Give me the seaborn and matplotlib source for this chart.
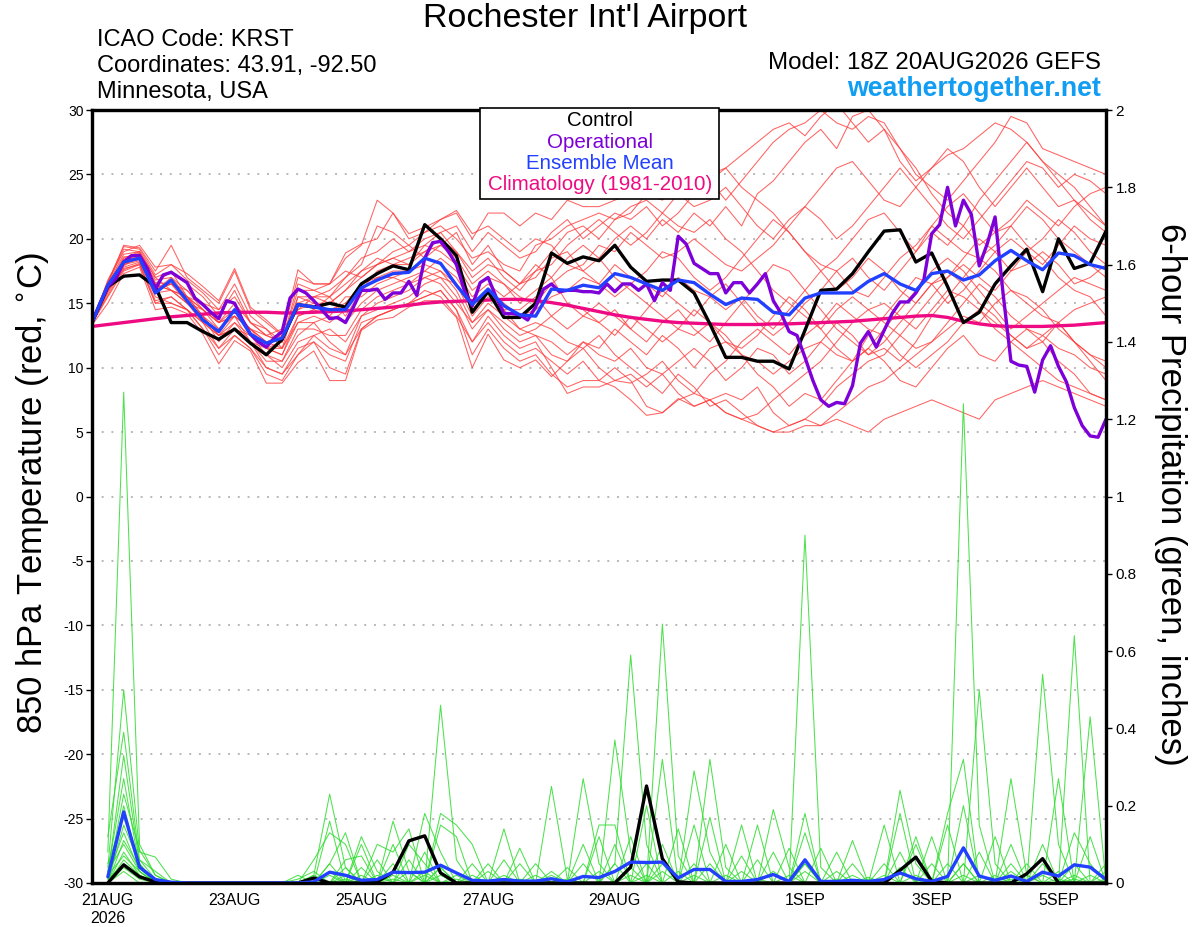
import numpy as np
import pandas as pd
import seaborn as sns
import matplotlib
matplotlib.use("Agg")
import matplotlib.pyplot as plt
from matplotlib.patches import Rectangle


# TIME AXIS (hours after 18Z 20AUG2026)
hours_6h = list(range(0, 385, 6))
hours_3h = list(range(0, 385, 3))
precip_hours = hours_6h[1:]

tick_hours = [6, 54, 102, 150, 198, 270, 318, 366]
tick_labels = ["21AUG\n2026", "23AUG", "25AUG", "27AUG", "29AUG", "1SEP", "3SEP", "5SEP"]
temp_ticks = [-30, -25, -20, -15, -10, -5, 0, 5, 10, 15, 20, 25, 30]
precip_ticks = [0, 0.2, 0.4, 0.6, 0.8, 1.0, 1.2, 1.4, 1.6, 1.8, 2.0]
precip_tick_labels = ["0", "0.2", "0.4", "0.6", "0.8", "1", "1.2", "1.4", "1.6", "1.8", "2"]


# 850 hPa TEMPERATURE - main lines
control_temp = [13.5, 16.3, 17.1, 17.2, 16.3, 13.5, 13.5, 12.8, 12.2, 13.0,
                11.9, 11.0, 12.2, 14.9, 14.7, 15.0, 14.7, 16.5, 17.3, 17.9,
                17.6, 21.1, 20.0, 18.7, 14.3, 15.9, 13.9, 13.9, 15.0, 18.9,
                18.1, 18.6, 18.3, 19.5, 17.8, 16.7, 16.8, 16.8, 15.8, 13.4,
                10.8, 10.8, 10.5, 10.5, 9.9, 12.9, 16.0, 16.1, 17.3, 19.0,
                20.6, 20.7, 18.2, 18.9, 16.3, 13.5, 14.3, 16.5, 17.9, 19.2,
                15.9, 20.0, 17.7, 18.1, 20.6]

mean_temp = [13.5, 16.4, 18.2, 18.5, 15.8, 16.8, 15.2, 13.7, 12.8, 14.5,
             12.6, 11.9, 12.3, 14.9, 14.7, 14.5, 14.5, 16.2, 16.8, 17.3,
             17.4, 18.5, 18.1, 16.4, 14.9, 16.1, 14.8, 14.1, 14.0, 16.1,
             16.0, 16.4, 16.2, 17.3, 17.0, 16.5, 16.0, 16.8, 16.6, 15.7,
             14.9, 15.4, 15.3, 14.3, 14.1, 15.4, 15.8, 15.8, 15.8, 16.7,
             17.3, 16.5, 16.0, 17.3, 17.5, 16.8, 17.2, 18.3, 19.1, 18.3,
             17.6, 18.9, 18.7, 18.0, 17.7]

clim_temp = [13.2, 13.35, 13.5, 13.65, 13.8, 13.95, 14.05, 14.15, 14.25, 14.3,
             14.3, 14.3, 14.25, 14.25, 14.3, 14.35, 14.4, 14.5, 14.6, 14.7,
             14.85, 15.0, 15.1, 15.15, 15.2, 15.25, 15.3, 15.3, 15.2, 15.05,
             14.85, 14.6, 14.35, 14.1, 13.9, 13.75, 13.6, 13.5, 13.45, 13.4,
             13.35, 13.35, 13.35, 13.4, 13.4, 13.45, 13.5, 13.55, 13.6, 13.7,
             13.8, 13.9, 14.0, 14.05, 13.9, 13.6, 13.4, 13.25, 13.2, 13.2,
             13.2, 13.25, 13.3, 13.4, 13.5]

# operational run is 3-hourly
oper_temp = [13.5, 15.0, 16.3, 16.9, 18.2, 18.7, 18.7, 17.7, 16.1, 17.2,
             17.4, 17.0, 16.6, 15.4, 14.9, 14.3, 13.8, 15.2, 15.0, 13.7,
             12.6, 12.0, 11.6, 12.3, 12.8, 15.4, 16.1, 15.8, 15.2, 14.5,
             13.8, 13.9, 13.5, 14.7, 16.0, 16.0, 16.1, 15.3, 15.8, 15.8,
             16.7, 15.6, 18.5, 19.7, 19.8, 19.0, 18.0, 16.0, 14.8, 16.6,
             17.0, 15.5, 14.2, 14.2, 14.1, 13.7, 14.7, 16.1, 16.5, 15.9,
             16.0, 16.0, 15.9, 15.9, 15.8, 16.5, 15.9, 16.5, 16.5, 16.0,
             16.5, 15.2, 16.6, 16.0, 20.2, 19.6, 18.1, 17.7, 17.3, 17.3,
             15.8, 16.6, 16.6, 15.8, 16.5, 17.3, 15.2, 14.2, 12.8, 12.5,
             10.8, 9.0, 7.5, 7.0, 7.3, 7.2, 8.6, 11.9, 12.8, 11.6,
             12.9, 14.2, 15.1, 15.1, 15.8, 16.8, 20.4, 21.1, 24.0, 21.0,
             23.0, 21.9, 17.9, 19.6, 21.7, 15.8, 10.5, 10.2, 10.1, 8.1,
             10.6, 11.7, 10.1, 8.9, 6.9, 5.5, 4.7, 4.6, 6.0]


# 850 hPa TEMPERATURE - ensemble members (6-hourly)
temp_m01 = [13.5, 16.0, 18.5, 19.0, 16.0, 17.0, 15.5, 14.5, 13.0, 14.5, 12.5, 11.5, 12.0,
            15.0, 15.5, 15.0, 16.0, 17.0, 18.0, 18.5, 19.0, 20.0, 20.5, 19.0, 17.5, 18.5,
            17.0, 16.0, 17.5, 19.0, 20.5, 21.0, 20.0, 21.5, 22.0, 23.5, 23.0, 24.5, 24.0,
            25.0, 25.5, 26.5, 27.5, 28.5, 29.0, 28.0, 29.5, 30.5, 29.0, 27.5, 28.5, 27.0,
            25.0, 24.0, 23.0, 24.5, 26.0, 27.5, 29.5, 29.0, 27.0, 26.5, 26.0, 25.5, 25.0]
temp_m02 = [13.4, 15.5, 17.5, 18.0, 15.0, 15.5, 14.5, 13.0, 11.0, 12.5, 11.5, 9.5, 9.0,
            11.0, 12.0, 10.0, 9.5, 13.0, 14.0, 14.5, 15.0, 15.5, 16.0, 14.5, 11.0, 13.0,
            11.5, 10.5, 11.0, 9.5, 8.5, 9.0, 9.0, 10.0, 9.0, 7.0, 6.5, 7.5, 8.0,
            7.5, 6.5, 6.0, 5.5, 5.0, 5.0, 5.5, 5.5, 6.0, 5.5, 5.0, 6.0, 6.5,
            7.0, 7.5, 7.0, 6.5, 6.0, 7.5, 8.0, 8.5, 9.0, 8.5, 8.0, 7.5, 7.0]
temp_m03 = [13.5, 16.2, 18.0, 18.5, 16.5, 16.0, 15.0, 13.5, 12.5, 13.0, 12.0, 10.5, 10.5,
            12.5, 13.5, 12.0, 11.0, 14.0, 15.0, 15.5, 16.0, 17.0, 17.5, 16.0, 13.5, 14.5,
            13.0, 12.0, 12.5, 11.0, 10.5, 11.5, 10.0, 9.0, 9.5, 8.5, 9.5, 8.0, 7.0,
            7.5, 8.0, 7.5, 8.5, 6.5, 5.5, 6.0, 5.5, 6.5, 7.5, 8.5, 9.0, 10.0,
            11.0, 12.0, 13.0, 14.0, 13.5, 15.0, 16.0, 15.5, 14.5, 13.0, 12.0, 10.5, 9.0]
temp_m04 = [13.6, 16.5, 19.5, 19.3, 17.5, 19.5, 17.0, 16.0, 15.0, 17.5, 14.5, 13.5, 12.5,
            17.0, 16.5, 16.5, 18.5, 19.5, 23.0, 22.0, 20.0, 20.5, 21.5, 22.0, 20.0, 22.0,
            22.0, 21.0, 22.0, 21.5, 23.0, 22.5, 22.5, 23.0, 23.5, 24.0, 24.0, 25.5, 24.0,
            24.5, 25.5, 24.0, 23.0, 22.0, 20.5, 19.0, 18.0, 17.5, 16.0, 15.5, 17.0, 18.5,
            19.5, 21.0, 20.0, 19.0, 18.5, 17.5, 16.0, 15.0, 14.0, 13.5, 12.0, 11.0, 10.0]
temp_m05 = [13.5, 16.3, 18.2, 18.8, 16.8, 17.0, 16.0, 14.5, 13.5, 14.0, 13.0, 12.0, 12.5,
            14.5, 15.0, 14.5, 15.0, 16.5, 17.0, 17.5, 17.5, 18.5, 18.0, 17.0, 15.0, 16.0,
            15.0, 14.0, 14.5, 15.5, 16.0, 17.0, 16.5, 18.0, 17.0, 16.5, 15.5, 17.0, 16.0,
            15.5, 14.5, 15.5, 14.0, 13.0, 14.5, 16.0, 17.5, 18.5, 20.0, 21.5, 22.0, 20.5,
            19.0, 21.0, 22.5, 23.5, 22.0, 20.5, 21.5, 23.0, 22.0, 21.0, 22.5, 23.5, 24.0]
temp_m06 = [13.5, 16.8, 19.0, 19.5, 17.8, 18.0, 17.3, 16.3, 15.2, 17.7, 14.7, 13.7, 12.6,
            17.6, 16.5, 16.5, 18.9, 19.6, 20.0, 22.0, 20.4, 20.9, 21.5, 22.2, 20.4, 21.0,
            20.0, 19.0, 20.0, 19.5, 18.0, 17.5, 18.5, 17.0, 16.0, 15.0, 14.0, 13.0, 12.5,
            13.5, 12.5, 11.0, 10.5, 9.5, 10.5, 11.5, 12.0, 13.5, 12.5, 11.0, 12.0, 13.5,
            15.0, 16.5, 17.0, 18.5, 20.0, 19.0, 17.5, 18.0, 19.0, 18.0, 16.5, 17.0, 18.0]
temp_m07 = [13.3, 15.0, 17.3, 17.8, 14.5, 14.7, 14.2, 12.6, 10.3, 12.1, 11.3, 8.8, 8.8,
            10.4, 11.3, 9.0, 9.0, 12.9, 13.7, 13.9, 14.7, 15.2, 15.2, 13.9, 10.0, 12.6,
            10.6, 10.0, 10.6, 9.3, 10.5, 12.0, 11.5, 13.0, 12.0, 11.0, 12.5, 11.5, 10.0,
            11.5, 12.0, 11.0, 9.5, 8.5, 7.0, 8.0, 7.5, 9.0, 10.5, 11.5, 10.5, 9.0,
            8.5, 10.0, 11.5, 12.5, 11.0, 10.5, 12.0, 13.0, 12.0, 10.5, 9.5, 8.0, 7.5]
temp_m08 = [13.5, 16.0, 18.0, 18.3, 16.0, 16.5, 15.0, 14.0, 13.0, 14.0, 13.0, 12.0, 11.5,
            14.0, 14.5, 15.5, 14.0, 16.0, 17.5, 18.0, 18.5, 19.0, 19.5, 18.5, 16.5, 17.5,
            16.5, 15.0, 16.0, 17.0, 18.5, 19.5, 18.5, 20.0, 21.0, 20.0, 21.5, 20.5, 22.0,
            21.0, 22.5, 21.0, 23.5, 24.5, 26.0, 27.5, 28.5, 27.0, 29.5, 30.0, 28.5, 26.0,
            24.5, 25.5, 27.0, 26.0, 24.0, 22.5, 24.0, 25.5, 24.0, 22.5, 23.0, 21.5, 20.5]
temp_m09 = [13.5, 16.5, 18.8, 19.0, 17.0, 16.0, 15.5, 15.0, 14.5, 15.5, 13.5, 12.5, 12.0,
            16.0, 16.0, 16.5, 17.5, 17.0, 18.0, 19.0, 19.5, 18.5, 19.5, 20.5, 18.0, 19.5,
            17.5, 16.5, 18.0, 17.0, 15.0, 14.0, 13.5, 14.5, 13.0, 12.0, 13.5, 14.5, 13.0,
            12.0, 13.5, 15.0, 16.5, 18.0, 17.5, 16.0, 14.5, 13.0, 12.0, 11.0, 11.5, 10.5,
            12.0, 14.0, 15.5, 17.0, 18.5, 19.5, 21.0, 22.5, 21.5, 20.0, 19.0, 18.0, 17.0]
temp_m10 = [13.4, 15.8, 17.8, 18.2, 15.5, 15.0, 14.5, 13.0, 11.5, 12.5, 11.5, 10.0, 9.5,
            11.5, 12.0, 11.0, 10.5, 13.5, 14.0, 14.5, 15.0, 16.0, 15.5, 14.0, 12.0, 13.5,
            12.0, 11.0, 11.5, 10.5, 9.5, 10.5, 9.0, 8.5, 7.5, 6.3, 6.5, 7.6, 7.0,
            7.5, 6.5, 6.0, 6.4, 7.5, 8.5, 9.5, 10.5, 12.0, 13.5, 14.5, 15.0, 14.0,
            13.0, 14.5, 16.0, 15.5, 14.5, 13.5, 12.5, 11.5, 12.0, 13.5, 14.5, 15.0, 15.5]
temp_m11 = [13.6, 16.6, 19.2, 19.0, 17.0, 17.5, 16.5, 15.5, 14.0, 16.0, 13.5, 13.0, 11.5,
            15.5, 15.5, 16.0, 17.0, 18.5, 19.0, 20.0, 19.0, 19.5, 20.5, 21.0, 19.0, 20.5,
            19.5, 18.5, 19.0, 20.5, 21.5, 20.0, 21.0, 22.0, 21.5, 22.5, 21.0, 22.0, 23.5,
            24.5, 23.0, 24.5, 26.0, 27.5, 28.5, 29.0, 30.0, 29.0, 28.5, 29.5, 29.0, 27.0,
            25.5, 23.5, 22.0, 21.0, 19.5, 20.5, 21.0, 19.5, 18.5, 17.0, 16.0, 15.5, 14.0]
temp_m12 = [13.5, 16.4, 18.3, 18.6, 16.2, 16.5, 16.0, 15.0, 13.5, 14.5, 13.0, 12.5, 13.0,
            14.5, 15.5, 15.5, 16.5, 17.5, 18.5, 18.0, 18.0, 19.5, 19.0, 18.0, 16.0, 17.0,
            16.5, 15.5, 15.0, 16.5, 17.5, 18.0, 19.5, 19.0, 20.5, 19.5, 18.5, 19.0, 20.0,
            19.0, 18.0, 17.5, 18.5, 19.5, 21.0, 22.5, 21.5, 20.0, 21.0, 22.5, 24.0, 25.5,
            24.0, 22.5, 21.0, 20.0, 21.5, 23.0, 24.5, 26.0, 25.5, 24.0, 25.0, 24.5, 23.5]
temp_m13 = [13.5, 15.9, 18.1, 18.4, 15.8, 16.0, 15.5, 14.0, 12.0, 13.5, 12.0, 11.0, 10.5,
            13.0, 13.0, 12.5, 12.5, 14.5, 15.5, 16.0, 16.5, 17.0, 16.5, 15.0, 13.5, 15.0,
            14.0, 13.0, 12.5, 12.0, 11.0, 12.0, 11.0, 10.5, 11.5, 10.0, 9.5, 10.5, 11.5,
            10.5, 9.0, 10.0, 11.5, 11.0, 9.5, 10.5, 12.0, 11.0, 10.5, 12.5, 14.0, 15.5,
            17.0, 16.5, 15.0, 16.0, 17.5, 19.0, 20.0, 19.0, 18.0, 19.5, 21.0, 20.0, 19.5]
temp_m14 = [13.5, 16.1, 17.9, 18.7, 16.5, 17.5, 15.5, 14.5, 13.5, 14.0, 12.0, 11.5, 11.0,
            14.0, 14.5, 14.0, 15.5, 15.5, 16.5, 17.0, 16.5, 17.5, 18.5, 17.5, 15.5, 16.5,
            15.5, 16.5, 17.0, 18.5, 19.0, 17.5, 16.5, 15.5, 16.5, 17.5, 19.0, 18.5, 17.0,
            16.0, 17.0, 18.5, 20.0, 21.5, 20.5, 19.0, 17.5, 16.0, 17.0, 18.5, 17.5, 16.0,
            15.0, 16.5, 17.5, 16.5, 15.0, 14.0, 12.5, 11.5, 12.5, 13.5, 12.0, 11.0, 10.5]
temp_m15 = [13.4, 16.0, 17.6, 18.1, 15.2, 15.5, 14.5, 13.5, 12.5, 13.0, 12.5, 11.0, 10.0,
            12.0, 12.5, 13.0, 12.0, 14.0, 14.5, 15.0, 15.5, 16.5, 17.0, 16.5, 14.0, 15.5,
            14.5, 13.0, 13.5, 13.0, 12.0, 11.5, 12.5, 11.0, 10.0, 9.0, 8.0, 9.5, 8.5,
            7.0, 7.5, 6.5, 5.5, 5.0, 5.5, 6.0, 7.0, 8.5, 9.5, 10.5, 11.0, 12.5,
            14.0, 15.5, 17.0, 18.0, 17.0, 16.0, 17.5, 19.0, 20.0, 21.5, 20.5, 19.0, 18.0]
temp_m16 = [13.6, 16.7, 19.4, 19.2, 17.2, 18.0, 16.8, 15.8, 14.5, 16.5, 14.0, 13.0, 12.0,
            16.5, 16.0, 15.5, 17.0, 18.0, 21.0, 20.5, 19.5, 20.5, 21.0, 20.0, 18.5, 19.0,
            18.0, 17.5, 19.5, 20.0, 21.0, 21.5, 22.0, 21.5, 22.5, 23.0, 22.0, 21.0, 20.5,
            21.5, 20.0, 19.0, 17.5, 16.0, 15.0, 14.0, 13.0, 14.5, 15.5, 14.5, 13.5, 12.5,
            11.5, 12.0, 13.5, 15.0, 16.5, 15.5, 14.0, 13.0, 12.5, 11.5, 11.0, 10.0, 9.5]
temp_m17 = [13.5, 16.2, 18.4, 18.9, 16.6, 16.5, 15.5, 14.0, 12.5, 13.5, 12.5, 11.5, 11.0,
            13.5, 14.0, 13.5, 14.5, 16.0, 17.0, 17.0, 17.5, 18.0, 17.5, 16.5, 14.5, 16.0,
            14.5, 14.5, 15.5, 14.0, 13.0, 14.0, 15.0, 14.0, 13.0, 14.5, 16.0, 15.0, 14.0,
            15.5, 16.5, 15.0, 13.5, 12.5, 13.5, 15.0, 16.0, 17.5, 18.5, 17.0, 16.0, 17.5,
            19.0, 20.5, 19.5, 21.0, 23.0, 24.5, 26.0, 27.5, 26.0, 25.0, 24.0, 22.5, 21.0]
temp_m18 = [13.5, 15.6, 17.7, 18.0, 15.0, 15.0, 14.5, 13.5, 11.5, 13.0, 12.0, 10.0, 9.5,
            11.0, 12.5, 11.5, 11.0, 13.0, 14.0, 14.5, 15.0, 15.5, 16.0, 14.5, 12.0, 14.0,
            12.5, 11.5, 12.0, 10.0, 8.0, 8.5, 8.5, 9.0, 8.8, 9.5, 10.5, 9.0, 8.0,
            9.5, 10.5, 12.0, 13.0, 12.0, 11.0, 12.5, 13.5, 15.0, 14.0, 13.0, 12.5, 11.0,
            10.0, 11.0, 12.0, 13.5, 14.5, 13.0, 12.0, 11.0, 10.0, 9.0, 8.5, 8.0, 7.5]
temp_m19 = [13.5, 16.4, 18.6, 18.7, 16.4, 16.0, 15.0, 14.5, 13.5, 15.0, 13.5, 12.5, 12.0,
            15.5, 15.0, 15.0, 16.0, 17.5, 18.0, 18.5, 18.0, 19.0, 20.0, 19.0, 17.0, 18.0,
            17.5, 16.5, 17.5, 18.0, 19.5, 20.5, 21.5, 20.5, 19.5, 20.5, 22.0, 23.5, 22.5,
            23.0, 24.0, 22.5, 21.0, 20.0, 21.5, 22.5, 24.0, 25.5, 26.0, 24.5, 23.0, 22.5,
            24.0, 25.5, 26.5, 27.0, 28.0, 29.0, 28.5, 27.5, 26.0, 24.5, 23.0, 22.0, 21.0]
temp_m20 = [13.5, 16.0, 18.2, 18.4, 16.0, 16.5, 15.5, 14.0, 12.5, 14.0, 13.0, 11.5, 11.5,
            13.5, 13.5, 14.0, 13.5, 15.0, 16.0, 16.5, 17.0, 17.5, 17.0, 15.5, 13.0, 14.5,
            13.5, 12.5, 13.0, 14.0, 15.0, 14.5, 13.5, 12.5, 14.0, 13.0, 12.0, 13.0, 14.5,
            13.5, 12.0, 11.5, 12.5, 14.0, 15.5, 14.5, 13.0, 11.5, 10.5, 11.5, 13.0, 14.5,
            16.0, 17.5, 18.5, 17.5, 16.0, 14.5, 13.0, 14.0, 15.0, 16.0, 17.0, 16.5, 16.0]

temp_members = [temp_m01, temp_m02, temp_m03, temp_m04, temp_m05, temp_m06, temp_m07,
                temp_m08, temp_m09, temp_m10, temp_m11, temp_m12, temp_m13, temp_m14,
                temp_m15, temp_m16, temp_m17, temp_m18, temp_m19, temp_m20]


# 6-HOUR PRECIPITATION (inches), valid 00Z 21AUG .. 18Z 5SEP
control_precip = [0, 0.047, 0.016, 0.003, 0, 0, 0, 0,
                  0, 0, 0, 0, 0, 0.013, 0, 0,
                  0, 0.003, 0.028, 0.109, 0.122, 0.026, 0, 0,
                  0, 0, 0, 0, 0, 0, 0, 0,
                  0, 0.041, 0.251, 0.063, 0.003, 0, 0, 0,
                  0, 0, 0, 0, 0, 0, 0, 0,
                  0, 0, 0.033, 0.067, 0.005, 0, 0, 0,
                  0, 0, 0.024, 0.063, 0, 0, 0, 0]

mean_precip = [0.016, 0.184, 0.041, 0.009, 0.002, 0, 0, 0,
               0, 0, 0, 0, 0, 0.003, 0.028, 0.02,
               0.007, 0.009, 0.028, 0.027, 0.028, 0.046, 0.026, 0.007,
               0.005, 0.009, 0.005, 0.005, 0.011, 0.003, 0.017, 0.014,
               0.03, 0.054, 0.053, 0.054, 0.013, 0.035, 0.035, 0.004,
               0.004, 0.009, 0.022, 0.004, 0.06, 0.004, 0.004, 0.007,
               0.004, 0.009, 0.026, 0.011, 0.004, 0.017, 0.091, 0.018,
               0.007, 0.018, 0.004, 0.028, 0.018, 0.047, 0.041, 0.009]

precip_m01 = [0.08, 1.27, 0.1, 0.02, 0, 0, 0, 0,   0, 0, 0, 0, 0, 0, 0.05, 0.13,
              0, 0, 0, 0, 0, 0.04, 0, 0,         0, 0.14, 0, 0, 0, 0, 0, 0,
              0.05, 0.59, 0.1, 0, 0, 0, 0, 0,    0, 0, 0, 0, 0.05, 0, 0, 0,
              0, 0, 0.08, 0, 0, 0, 0.05, 0,      0, 0, 0, 0.54, 0.1, 0, 0, 0]
precip_m02 = [0.04, 0.5, 0.08, 0.067, 0.01, 0, 0, 0,  0, 0, 0, 0, 0, 0.02, 0.23, 0.04,
              0, 0, 0, 0, 0, 0.46, 0.06, 0,          0, 0, 0, 0, 0.03, 0, 0, 0,
              0, 0, 0, 0.67, 0.07, 0, 0, 0,          0, 0, 0, 0, 0.13, 0, 0, 0,
              0, 0, 0, 0, 0, 0, 1.24, 0.15,          0, 0, 0, 0, 0, 0.05, 0, 0]
precip_m03 = [0.12, 0.39, 0.06, 0.03, 0, 0, 0, 0,  0, 0, 0, 0, 0, 0, 0, 0,
              0.12, 0.03, 0, 0, 0, 0, 0, 0,       0, 0, 0, 0, 0.25, 0.01, 0, 0,
              0, 0, 0, 0.32, 0, 0.05, 0, 0,       0, 0, 0, 0, 0.9, 0.04, 0, 0,
              0, 0, 0, 0, 0, 0, 0, 0,             0, 0.27, 0.02, 0, 0, 0, 0.43, 0]
precip_m04 = [0.02, 0.33, 0.05, 0, 0, 0, 0, 0,    0, 0, 0, 0, 0, 0, 0.16, 0,
              0, 0, 0.16, 0.03, 0, 0, 0, 0,       0, 0, 0, 0, 0, 0, 0.27, 0.05,
              0, 0, 0, 0, 0, 0, 0.32, 0.04,       0, 0, 0, 0, 0, 0, 0, 0,
              0, 0, 0.24, 0.05, 0, 0, 0, 0.5,     0.05, 0, 0, 0, 0, 0.64, 0, 0]
precip_m05 = [0.03, 0.27, 0.04, 0, 0, 0, 0, 0,    0, 0, 0, 0, 0, 0.06, 0.13, 0.1,
              0, 0, 0, 0, 0.18, 0.08, 0, 0,       0, 0, 0, 0, 0, 0, 0, 0,
              0.37, 0.08, 0, 0, 0, 0, 0, 0,       0, 0, 0.19, 0.04, 0, 0, 0, 0,
              0, 0, 0, 0, 0, 0.18, 0.32, 0,       0, 0, 0, 0, 0.27, 0, 0, 0.05]
precip_m06 = [0.01, 0.23, 0.085, 0.02, 0, 0, 0, 0,  0, 0, 0, 0, 0, 0, 0, 0.06,
              0.07, 0, 0, 0, 0, 0.18, 0.15, 0.1,    0, 0, 0.09, 0, 0, 0, 0, 0,
              0, 0, 0, 0, 0, 0.29, 0.08, 0,         0, 0, 0, 0, 0, 0, 0, 0,
              0, 0.15, 0, 0, 0, 0, 0.2, 0,          0, 0.1, 0, 0, 0, 0, 0.12, 0]
precip_m07 = [0, 0.2, 0.04, 0, 0, 0, 0, 0,        0, 0, 0, 0, 0.01, 0.03, 0, 0,
              0, 0.1, 0.08, 0.14, 0, 0, 0, 0,     0, 0, 0, 0, 0, 0, 0, 0.15,
              0.15, 0, 0, 0.1, 0, 0, 0, 0,        0, 0.15, 0, 0, 0, 0, 0, 0.11,
              0, 0, 0, 0.1, 0, 0, 0, 0.08,        0, 0, 0, 0.1, 0, 0, 0, 0]
precip_m08 = [0.05, 0.17, 0.06, 0.01, 0, 0, 0, 0,  0, 0, 0, 0, 0, 0, 0, 0,
              0.1, 0, 0, 0.1, 0.05, 0, 0, 0,       0.05, 0, 0, 0, 0, 0, 0.1, 0,
              0, 0, 0.2, 0, 0, 0, 0.17, 0,         0, 0, 0, 0, 0.18, 0, 0, 0,
              0, 0, 0.18, 0, 0, 0.15, 0, 0,        0, 0, 0, 0, 0, 0.13, 0.05, 0]
precip_m09 = [0, 0.15, 0.05, 0, 0, 0, 0, 0,       0, 0, 0, 0, 0, 0, 0.03, 0,
              0, 0, 0.1, 0, 0, 0.15, 0.12, 0,     0, 0, 0, 0.05, 0, 0, 0, 0,
              0, 0.12, 0, 0, 0.14, 0, 0, 0,       0.07, 0, 0, 0, 0, 0, 0.08, 0,
              0, 0, 0, 0, 0.12, 0, 0, 0,          0, 0.05, 0, 0, 0, 0, 0, 0.03]
precip_m10 = [0.02, 0.13, 0.03, 0, 0, 0, 0, 0,    0, 0, 0, 0, 0.02, 0, 0, 0.02,
              0, 0.06, 0, 0, 0.08, 0, 0, 0.05,    0, 0, 0, 0, 0.02, 0, 0, 0,
              0.1, 0, 0, 0, 0, 0.15, 0, 0,        0, 0, 0.08, 0, 0, 0, 0, 0,
              0.015, 0, 0, 0.12, 0, 0, 0, 0,      0.12, 0, 0, 0.05, 0, 0, 0, 0]
precip_m11 = [0, 0.11, 0.04, 0, 0, 0, 0, 0,       0, 0, 0, 0, 0, 0.01, 0, 0,
              0.04, 0, 0.05, 0, 0, 0, 0.02, 0,    0, 0.06, 0, 0, 0, 0.04, 0, 0,
              0, 0, 0, 0.05, 0, 0, 0, 0.1,        0, 0, 0, 0, 0.05, 0, 0, 0,
              0, 0.05, 0, 0, 0.05, 0, 0, 0,       0, 0, 0.05, 0, 0, 0, 0, 0]
precip_m12 = [0.03, 0.1, 0.03, 0, 0, 0, 0, 0,     0, 0, 0, 0, 0, 0, 0.05, 0,
              0, 0, 0, 0.06, 0, 0.04, 0, 0,       0, 0, 0.05, 0, 0, 0, 0, 0.12,
              0, 0, 0.05, 0, 0, 0, 0, 0,          0.15, 0, 0, 0.09, 0, 0, 0, 0.05,
              0, 0, 0, 0, 0, 0, 0.05, 0,          0, 0, 0, 0, 0.03, 0, 0, 0]
precip_m13 = [0, 0.08, 0.02, 0, 0, 0, 0, 0,       0, 0, 0, 0, 0, 0, 0, 0.04,
              0, 0, 0.02, 0, 0.03, 0, 0, 0,       0.03, 0, 0, 0, 0, 0, 0.05, 0,
              0, 0.04, 0, 0, 0.03, 0, 0, 0,       0, 0.06, 0, 0, 0, 0.09, 0, 0,
              0, 0, 0.04, 0, 0, 0, 0, 0.02,       0, 0, 0, 0, 0, 0.02, 0, 0]
precip_m14 = [0.02, 0.07, 0.03, 0, 0, 0, 0, 0,    0, 0, 0, 0, 0, 0.02, 0, 0,
              0, 0.02, 0, 0, 0, 0, 0, 0.02,       0, 0, 0, 0.02, 0, 0, 0, 0,
              0.05, 0, 0, 0, 0, 0, 0.05, 0,       0, 0, 0.03, 0, 0, 0, 0.03, 0,
              0, 0, 0, 0, 0, 0.05, 0, 0,          0, 0.03, 0, 0, 0, 0, 0.02, 0]
precip_m15 = [0, 0.06, 0.02, 0, 0, 0, 0, 0,       0, 0, 0, 0, 0, 0, 0, 0,
              0, 0, 0, 0.03, 0, 0.02, 0, 0,       0, 0, 0, 0, 0.01, 0, 0, 0,
              0, 0, 0, 0.03, 0, 0, 0, 0.02,       0, 0, 0, 0, 0.03, 0, 0, 0,
              0, 0.02, 0, 0, 0, 0, 0.02, 0,       0, 0, 0, 0.02, 0, 0, 0, 0.01]
precip_m16 = [0.01, 0.05, 0.02, 0, 0, 0, 0, 0,    0, 0, 0, 0, 0, 0, 0, 0,
              0.02, 0, 0, 0, 0.02, 0, 0, 0,       0, 0.02, 0, 0, 0, 0, 0, 0.03,
              0, 0, 0, 0, 0, 0.02, 0, 0,          0, 0, 0, 0.02, 0, 0, 0, 0,
              0.01, 0, 0, 0, 0, 0, 0, 0,          0.02, 0, 0, 0, 0.01, 0, 0, 0]
precip_m17 = [0, 0.04, 0.01, 0, 0, 0, 0, 0,       0, 0, 0, 0, 0, 0, 0.02, 0,
              0, 0, 0, 0, 0, 0, 0.01, 0,          0, 0, 0, 0, 0, 0.01, 0, 0,
              0, 0, 0.02, 0, 0, 0, 0, 0,          0.03, 0, 0, 0, 0, 0, 0, 0.02,
              0, 0, 0, 0.02, 0, 0, 0, 0,          0, 0, 0.02, 0, 0, 0.01, 0, 0]
precip_m18 = [0, 0.03, 0, 0, 0, 0, 0, 0,          0, 0, 0, 0, 0, 0, 0, 0.01,
              0, 0, 0.01, 0, 0, 0, 0, 0,          0, 0, 0.01, 0, 0, 0, 0, 0,
              0, 0.02, 0, 0, 0, 0, 0, 0,          0, 0.01, 0, 0, 0, 0, 0.01, 0,
              0, 0, 0, 0, 0.01, 0, 0, 0,          0, 0.01, 0, 0, 0, 0, 0, 0]

precip_members = [precip_m01, precip_m02, precip_m03, precip_m04, precip_m05, precip_m06,
                  precip_m07, precip_m08, precip_m09, precip_m10, precip_m11, precip_m12,
                  precip_m13, precip_m14, precip_m15, precip_m16, precip_m17, precip_m18]


# long-form tables for seaborn
red_df = pd.concat([pd.DataFrame({"hour": hours_6h, "temp": vals, "member": i})
                    for i, vals in enumerate(temp_members)], ignore_index=True)
green_df = pd.concat([pd.DataFrame({"hour": precip_hours, "precip": vals, "member": i})
                      for i, vals in enumerate(precip_members)], ignore_index=True)


# PLOT
sns.set_style("white")
plt.rcParams["font.family"] = ["Liberation Sans", "DejaVu Sans"]
plt.rcParams["axes.unicode_minus"] = False
plt.rcParams["text.color"] = "black"
plt.rcParams["axes.labelcolor"] = "black"
plt.rcParams["xtick.color"] = "black"
plt.rcParams["ytick.color"] = "black"

fig = plt.figure(figsize=(12, 9.27), dpi=100)
ax = fig.add_axes([92 / 1200, 1 - 883 / 927, 1014 / 1200, 773 / 927])
ax2 = ax.twinx()

RED = "#ff3b3b"
GREEN = "#2edc2e"
PURPLE = "#7d00d8"
BLUE = "#2240ff"
MAGENTA = "#ee0a82"
LW = 2.4

sns.lineplot(data=red_df, x="hour", y="temp", units="member", estimator=None,
             color=RED, linewidth=0.75, alpha=0.8, ax=ax, legend=False)
sns.lineplot(x=hours_6h, y=clim_temp, color=MAGENTA, linewidth=LW, ax=ax)
sns.lineplot(x=hours_6h, y=control_temp, color="black", linewidth=LW, ax=ax)
sns.lineplot(x=hours_3h, y=oper_temp, color=PURPLE, linewidth=LW, ax=ax)
sns.lineplot(x=hours_6h, y=mean_temp, color=BLUE, linewidth=LW, ax=ax)

sns.lineplot(data=green_df, x="hour", y="precip", units="member", estimator=None,
             color=GREEN, linewidth=0.75, alpha=0.85, ax=ax2, legend=False)
sns.lineplot(x=precip_hours, y=control_precip, color="black", linewidth=LW, ax=ax2)
sns.lineplot(x=precip_hours, y=mean_precip, color=BLUE, linewidth=LW, ax=ax2)

# axes, ticks, grid
ax.set_xlim(0, 384)
ax.set_ylim(-30, 30)
ax2.set_ylim(0, 2)
ax.set_xticks(tick_hours, tick_labels)
ax.set_yticks(temp_ticks)
ax2.set_yticks(precip_ticks, precip_tick_labels)
for a in (ax, ax2):
    a.set_xlabel("")
    a.set_ylabel("")
    for s in a.spines.values():
        s.set_linewidth(2.3)
        s.set_color("black")

ax.tick_params(axis="x", direction="out", length=3.5, width=1, pad=4, labelsize=11.5)
ax.tick_params(axis="y", direction="out", length=4, width=1, pad=2, labelsize=10)
ax2.tick_params(axis="y", direction="out", length=4, width=1, pad=3, labelsize=11)

ax.set_axisbelow(True)
ax.grid(axis="y", color="#b8b8b8", linestyle=(0, (1, 4)), linewidth=1.4)
ax.grid(axis="x", visible=False)
ax2.grid(False)

# axis titles
fig.text(33 / 1200, 1 - 493 / 927, "850 hPa Temperature (red, $^{\\circ}$C)",
         rotation=90, ha="center", va="center", fontsize=25)
fig.text(1170 / 1200, 1 - 494 / 927, "6-hour Precipitation (green, inches)",
         rotation=270, ha="center", va="center", fontsize=25)

# header
fig.text(585 / 1200, 1 - 18 / 927, "Rochester Int'l Airport",
         ha="center", va="center", fontsize=24.5)
header_left = ["ICAO Code: KRST", "Coordinates: 43.91, -92.50", "Minnesota, USA"]
for i, line in enumerate(header_left):
    fig.text(97 / 1200, 1 - (40 + 26 * i) / 927, line, ha="left", va="center", fontsize=17)
fig.text(1101 / 1200, 1 - 63 / 927, "Model: 18Z 20AUG2026 GEFS",
         ha="right", va="center", fontsize=17.4)
fig.text(1101 / 1200, 1 - 89 / 927, "weathertogether.net", ha="right", va="center",
         fontsize=19.3, fontweight="bold", color="#119df2")

# legend box
box = Rectangle((480 / 1200, 1 - 199 / 927), 239 / 1200, 91 / 927, transform=fig.transFigure,
                facecolor="white", edgecolor="black", linewidth=1.2, zorder=5)
fig.add_artist(box)
legend_items = [("Control", "black"), ("Operational", PURPLE),
                ("Ensemble Mean", BLUE), ("Climatology (1981-2010)", MAGENTA)]
for i, (name, col) in enumerate(legend_items):
    fig.text(600 / 1200, 1 - (121 + 21.3 * i) / 927, name, ha="center", va="center",
             fontsize=14.8, color=col, zorder=6)

fig.savefig("out.png", dpi=100)
